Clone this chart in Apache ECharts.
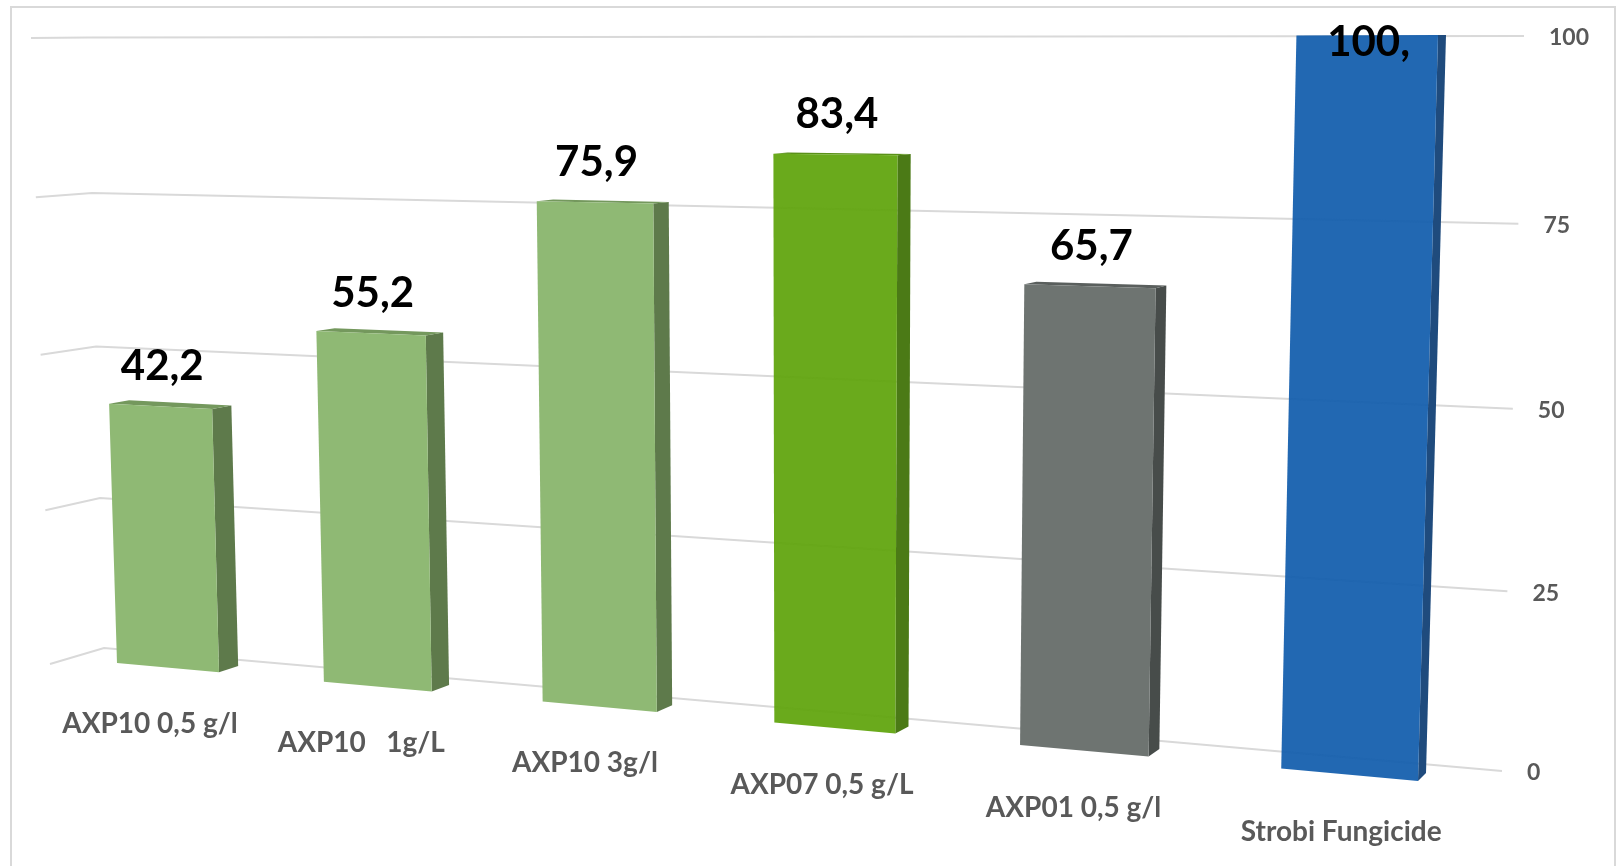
<!DOCTYPE html>
<html>
<head>
<meta charset="utf-8">
<title>AXP - Strobi</title>
<script src="https://cdn.jsdelivr.net/npm/echarts@6/dist/echarts.min.js"></script>
<style>
  html, body { margin: 0; padding: 0; background: #fff; }
  #chart { width: 1617px; height: 866px; }
</style>
</head>
<body>
<div id="chart"></div>
<script>
// chart data
var categories = ['AXP10 0,5 g/l', 'AXP10   1g/L', 'AXP10 3g/l', 'AXP07 0,5 g/L', 'AXP01 0,5 g/l', 'Strobi Fungicide'];
var values = [42.2, 55.2, 75.9, 83.4, 65.7, 100];
var valueLabels = ['42,2', '55,2', '75,9', '83,4', '65,7', '100,'];
var yTicks = [0, 25, 50, 75, 100];
var tickLabels = ['0', '25', '50', '75', '100'];

// bar styles
var frontColors = ['#8fb974', '#8fb974', '#8fb974', '#5fa40b', '#6e7471', '#115dac'];
var sideColors = ['#5e7a4b', '#5e7a4b', '#5e7a4b', '#4b7a16', '#474c4a', '#1f4b7d'];
var topColors = ['#74985d', '#74985d', '#74985d', '#5a9118', '#5a5f5d', '#1f5a98'];
var frontOpacity = [1, 1, 1, 0.93, 1, 0.93];

// "camera": each plane is a unit square -> quad [p00, p10, p11, p01]
var backWall = [[104, 648], [1502, 771], [1524, 36], [88, 37.5]];
var wallFrontEdge = [[50, 664], [31, 38]];
var barFront = [[117, 663], [1418, 781], [1438, 35], [98, 39]];
var barBack = [[137, 657], [1426, 773], [1446, 35], [118, 39]];
var n = categories.length;
var spanU0 = 0.25 / n, spanU1 = (n - 0.25) / n;
var spanWarp = 0.017;

function quadMap (q, s, t) {
  var x0 = q[0][0], y0 = q[0][1], x1 = q[1][0], y1 = q[1][1];
  var x2 = q[2][0], y2 = q[2][1], x3 = q[3][0], y3 = q[3][1];
  var dx1 = x1 - x2, dx2 = x3 - x2, dx3 = x0 - x1 + x2 - x3;
  var dy1 = y1 - y2, dy2 = y3 - y2, dy3 = y0 - y1 + y2 - y3;
  var den = dx1 * dy2 - dx2 * dy1;
  var g = (dx3 * dy2 - dx2 * dy3) / den;
  var h = (dx1 * dy3 - dx3 * dy1) / den;
  var a = x1 - x0 + g * x1, b = x3 - x0 + h * x3;
  var d = y1 - y0 + g * y1, e = y3 - y0 + h * y3;
  var w = g * s + h * t + 1;
  return [(a * s + b * t + x0) / w, (d * s + e * t + y0) / w];
}

function toU (cs, px) { return (px - cs.x) / cs.width }
function toT (cs, py) { return (cs.y + cs.height - py) / cs.height }
function toS (u) {
  var s = (u - spanU0) / (spanU1 - spanU0);
  return s + spanWarp * s * (1 - s);
}

var labelFont = 'Lato, "Open Sans", sans-serif';

function renderWall (params, api) {
  var cs = params.coordSys;
  var idx = params.dataIndex;
  var t = toT(cs, api.coord([0, api.value(1)])[1]);
  var b0 = quadMap(backWall, 0, t);
  var b1 = quadMap(backWall, 1, t);
  var frac = (backWall[0][1] - b0[1]) / (backWall[0][1] - backWall[3][1]);
  var f = [
    wallFrontEdge[0][0] + (wallFrontEdge[1][0] - wallFrontEdge[0][0]) * frac,
    wallFrontEdge[0][1] + (wallFrontEdge[1][1] - wallFrontEdge[0][1]) * frac
  ];
  return {
    type: 'group',
    children: [
      {
        type: 'polyline',
        shape: { points: [f, b0, b1] },
        style: { stroke: '#d9d9d9', lineWidth: 2, fill: null }
      },
      {
        type: 'text',
        x: b1[0] + 25,
        y: b1[1] + 2,
        style: {
          text: tickLabels[idx],
          fill: '#595959',
          font: 'bold 23px ' + labelFont,
          align: 'left',
          verticalAlign: 'middle'
        }
      }
    ]
  };
}

function renderBar (params, api) {
  var cs = params.coordSys;
  var i = api.value(0);
  var top = api.coord([i, api.value(1)]);
  var bw = api.size([1, 0])[0] * 0.5;
  var sL = toS(toU(cs, top[0] - bw / 2));
  var sR = toS(toU(cs, top[0] + bw / 2));
  var sM = (sL + sR) / 2;
  var t = toT(cs, top[1]);

  var fBL = quadMap(barFront, sL, 0), fBR = quadMap(barFront, sR, 0);
  var fTR = quadMap(barFront, sR, t), fTL = quadMap(barFront, sL, t);
  var bBR = quadMap(barBack, sR, 0), bTR = quadMap(barBack, sR, t), bTL = quadMap(barBack, sL, t);

  var topMid = quadMap(barFront, sM, t);
  var plotTop = quadMap(barFront, sM, 1);
  var botMid = quadMap(barFront, sM, 0);
  var botBack = quadMap(barBack, sM, 0);
  var labelY = Math.max(topMid[1] - 40, plotTop[1] + 7);
  var catX = botMid[0] + (botMid[0] - botBack[0]) * 0.9;
  var catY = botMid[1] + (botMid[1] - botBack[1]) * 0.9 + 50.5;

  return {
    type: 'group',
    children: [
      {
        type: 'polygon',
        shape: { points: [fBR, bBR, bTR, fTR] },
        style: { fill: sideColors[i] }
      },
      {
        type: 'polygon',
        shape: { points: [fTL, fTR, bTR, bTL] },
        style: { fill: topColors[i] }
      },
      {
        type: 'polygon',
        shape: { points: [fBL, fBR, fTR, fTL] },
        style: { fill: frontColors[i], opacity: frontOpacity[i] }
      },
      {
        type: 'text',
        x: topMid[0] + 2,
        y: labelY,
        style: {
          text: valueLabels[i],
          fill: '#000',
          font: 'bold 42px ' + labelFont,
          align: 'center',
          verticalAlign: 'middle'
        }
      },
      {
        type: 'text',
        x: catX,
        y: catY,
        style: {
          text: categories[i],
          fill: '#595959',
          font: 'bold 28px ' + labelFont,
          align: 'center',
          verticalAlign: 'middle'
        }
      }
    ]
  };
}

var chart = echarts.init(document.getElementById('chart'));
chart.setOption({
  animation: false,
  graphic: [
    {
      type: 'rect',
      shape: { x: 11, y: 7, width: 1604, height: 880 },
      style: { fill: null, stroke: '#d9d9d9', lineWidth: 2 },
      silent: true
    }
  ],
  grid: { left: 100, right: 100, top: 100, bottom: 100 },
  xAxis: { type: 'category', data: categories, show: false },
  yAxis: { type: 'value', min: 0, max: 100, interval: 25, show: false },
  series: [
    {
      name: 'grid',
      type: 'custom',
      clip: false,
      renderItem: renderWall,
      encode: { x: 0, y: 1 },
      data: yTicks.map(function (v) { return [0, v] })
    },
    {
      name: 'values',
      type: 'custom',
      clip: false,
      renderItem: renderBar,
      encode: { x: 0, y: 1 },
      data: values.map(function (v, i) { return [i, v] })
    }
  ]
});
</script>
</body>
</html>
